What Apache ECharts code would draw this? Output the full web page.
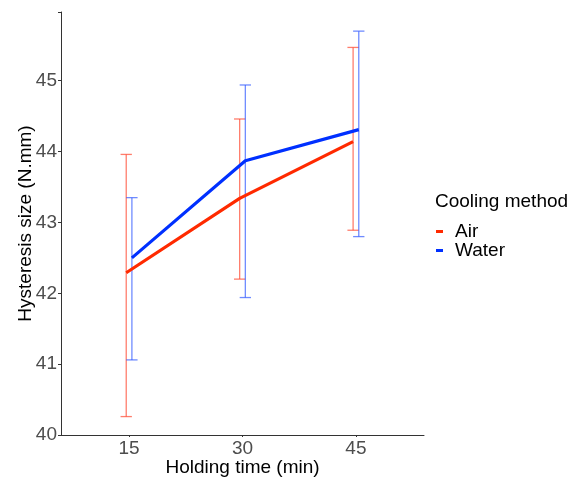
<!DOCTYPE html>
<html>
<head>
<meta charset="utf-8">
<script src="https://cdn.jsdelivr.net/npm/echarts@6/dist/echarts.min.js"></script>
<style>html,body{margin:0;padding:0;background:#fff;}#c{width:576px;height:479px;}</style>
</head>
<body>
<div id="c"></div>
<script>
const categories = ['15', '30', '45'];
const seriesNames = ['Air', 'Water'];
const airMean = [42.29, 43.34, 44.14];
const airLow = [40.26, 42.20, 42.89];
const airHigh = [43.96, 44.46, 45.47];
const waterMean = [42.50, 43.87, 44.31];
const waterLow = [41.06, 41.94, 42.80];
const waterHigh = [43.35, 44.94, 45.70];
const yTicks = [40, 41, 42, 43, 44, 45];

const FONT = 'Liberation Sans, Arial, sans-serif';
const dodge = 0.025;
const capW = 0.05;
const colors = {Air: '#FF2A00', Water: '#0030FF'};
const errColors = {Air: 'rgba(255,70,45,0.7)', Water: 'rgba(50,90,255,0.7)'};

function pts(mean, off) { return mean.map((v, i) => [i + 1 + off, v]); }
function errs(lo, hi, off) { return lo.map((v, i) => [i + 1 + off, lo[i], hi[i]]); }

function errSeries(name, data) {
  return {
    type: 'custom', name: name, silent: true, z: 1,
    data: data,
    renderItem: function (params, api) {
      const x = api.value(0), lo = api.value(1), hi = api.value(2);
      const pLo = api.coord([x, lo]), pHi = api.coord([x, hi]);
      const l = api.coord([x - capW, lo])[0], r = api.coord([x + capW, lo])[0];
      const st = {stroke: errColors[name], lineWidth: 1.3, fill: null};
      return {type: 'group', children: [
        {type: 'line', shape: {x1: pLo[0], y1: pLo[1], x2: pHi[0], y2: pHi[1]}, style: st},
        {type: 'line', shape: {x1: l, y1: pLo[1], x2: r, y2: pLo[1]}, style: st},
        {type: 'line', shape: {x1: l, y1: pHi[1], x2: r, y2: pHi[1]}, style: st}
      ]};
    }
  };
}

const chart = echarts.init(document.getElementById('c'), null, {renderer: 'canvas'});
chart.setOption({
  animation: false,
  backgroundColor: '#fff',
  grid: {left: 61, right: 152, top: 12, bottom: 44, containLabel: false, outerBoundsMode: 'none'},
  title: {text: 'Cooling method', left: 435, top: 192, textStyle: {fontFamily: FONT, fontSize: 19, fontWeight: 'normal', color: '#000'}, padding: 0},
  legend: {
    orient: 'vertical', left: 436, top: 222, padding: 0,
    itemWidth: 7, itemHeight: 3, itemGap: 0,
    icon: 'rect',
    data: seriesNames.map(n => ({name: n, itemStyle: {color: colors[n]}})),
    textStyle: {fontFamily: FONT, fontSize: 19, color: '#000', lineHeight: 17, padding: [0, 0, 0, 7]}
  },
  xAxis: {
    type: 'value', min: 0.4, max: 3.6,
    name: 'Holding time (min)', nameLocation: 'middle', nameGap: 23, nameMoveOverlap: false,
    nameTextStyle: {fontFamily: FONT, fontSize: 19, color: '#000'},
    axisLine: {show: true, lineStyle: {color: '#333', width: 1}},
    axisTick: {show: true, length: 2, customValues: [1, 2, 3], lineStyle: {color: '#333'}},
    axisLabel: {customValues: [1, 2, 3], margin: 4, fontFamily: FONT, fontSize: 19, color: '#4D4D4D',
      formatter: v => categories[Math.round(v) - 1]},
    splitLine: {show: false}
  },
  yAxis: {
    type: 'value', min: 40, max: 45.97, interval: 1,
    name: 'Hysteresis size (N.mm)', nameLocation: 'middle', nameGap: 26, nameMoveOverlap: false,
    nameTextStyle: {fontFamily: FONT, fontSize: 19, color: '#000'},
    axisLine: {show: true, lineStyle: {color: '#333', width: 1}},
    axisTick: {show: true, length: 3, lineStyle: {color: '#333'}},
    axisLabel: {margin: 4, fontFamily: FONT, fontSize: 19, color: '#4D4D4D',
      formatter: v => (yTicks.indexOf(v) >= 0 ? String(v) : '')},
    splitLine: {show: false}
  },
  series: [
    errSeries('Air', errs(airLow, airHigh, -dodge)),
    errSeries('Water', errs(waterLow, waterHigh, dodge)),
    {type: 'line', name: 'Air', data: pts(airMean, -dodge), showSymbol: false, symbol: 'none', z: 3,
      lineStyle: {color: colors.Air, width: 3.2}, itemStyle: {color: colors.Air}},
    {type: 'line', name: 'Water', data: pts(waterMean, dodge), showSymbol: false, symbol: 'none', z: 3,
      lineStyle: {color: colors.Water, width: 3.2}, itemStyle: {color: colors.Water}}
  ]
});
</script>
</body>
</html>
